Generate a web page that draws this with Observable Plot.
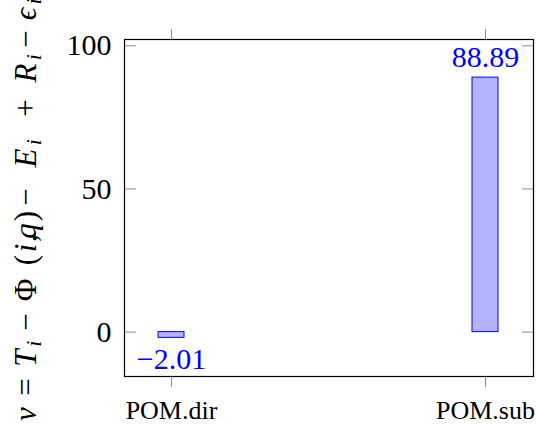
<!DOCTYPE html>
<html><head><meta charset="utf-8">
<script src="https://cdn.jsdelivr.net/npm/d3@7"></script>
<script src="https://cdn.jsdelivr.net/npm/@observablehq/plot@0.6"></script>
<style>body{margin:0;background:#fff} svg{display:block}</style>
</head><body><div id="chart"></div>
<script>
const categories = ["POM.dir", "POM.sub"];
const values = [-2.01, 88.89];
const yTicks = [0, 50, 100];
// y-axis title pieces: [text, italic, subscript]
const yTitleParts = [
  ["v",1,0],["=",0,0],["T",1,0],["i",1,1],["−",0,0],["Φ",0,0],["(",0,0],["i",1,0],[",",0,0],["q",1,0],
  [")",0,0],["−",0,0],["E",1,0],["i",1,1],["+",0,0],["R",1,0],["i",1,1],["−",0,0],["ϵ",1,0],["i",1,1]
];
// layout of the main title pieces along the rotated axis (distance from page top where each starts);
// subscripts (null) follow their letter, tucked under its slant
const yTitleLayout = [414,387,358,null,322,290,260,248,238,231,216,197,158,null,108,73,null,39,14,null];

const data = categories.map((c, i) => ({category: c, value: values[i]}));
const blue = "#0000ff";
const serif = "'Liberation Serif', 'DejaVu Serif', serif";
const fmt = d3.format(".2f");

const chart = Plot.plot({
  width: 536, height: 427,
  marginLeft: 124, marginRight: 3, marginTop: 39, marginBottom: 51,
  style: {background: "white", color: "black"},
  x: {type: "band", domain: categories, paddingInner: 0.916, paddingOuter: 0.108},
  y: {domain: [-15.5, 102.2]},
  marks: [
    Plot.barY(data, {x: "category", y: "value", fill: "rgb(179,179,255)", stroke: blue, strokeWidth: 1}),
    Plot.text(data.filter(d => d.value >= 0), {x: "category", y: "value", text: d => fmt(d.value), lineAnchor: "bottom", dy: -11, fill: blue, fontSize: 30, fontFamily: serif}),
    Plot.text(data.filter(d => d.value < 0), {x: "category", y: "value", text: d => fmt(d.value), lineAnchor: "top", dy: 10, fill: blue, fontSize: 30, fontFamily: serif}),
    Plot.axisY(yTicks, {anchor: "left", tickSize: 12, dx: 12, stroke: "#8c8c8c", fill: "none", label: null}),
    Plot.axisY(yTicks, {anchor: "right", tickSize: 12, dx: -12, stroke: "#8c8c8c", fill: "none", label: null}),
    Plot.axisY(yTicks, {anchor: "left", tickSize: 0, tickPadding: 13, fontSize: 30, fontFamily: serif, label: null}),
    Plot.axisX({anchor: "bottom", tickSize: 11, tickPadding: 13, fontSize: 26, fontFamily: serif, stroke: "#8c8c8c", label: null}),
    Plot.axisX({anchor: "top", tickSize: 11, stroke: "#8c8c8c", fill: "none", label: null}),
    Plot.frame({stroke: "black", strokeWidth: 1.2})
  ]
});
document.getElementById("chart").appendChild(chart);

// y-axis title, rotated, with math-style italics and subscripts
const t = d3.select(chart).append("text")
  .attr("transform", "translate(36,0) rotate(-90)")
  .attr("fill", "black")
  .attr("font-family", serif);
yTitleParts.forEach(([s, it, sub], i) => {
  const ts = t.append("tspan")
    .attr("y", sub ? 5 : 0)
    .attr("font-style", it ? "italic" : "normal")
    .attr("font-size", sub ? 22 : 31)
    .text(s);
  if (yTitleLayout[i] != null) ts.attr("x", -yTitleLayout[i]);
  else if (/[A-Z]/.test(yTitleParts[i - 1][0])) ts.attr("dx", -3);
});
</script></body></html>
